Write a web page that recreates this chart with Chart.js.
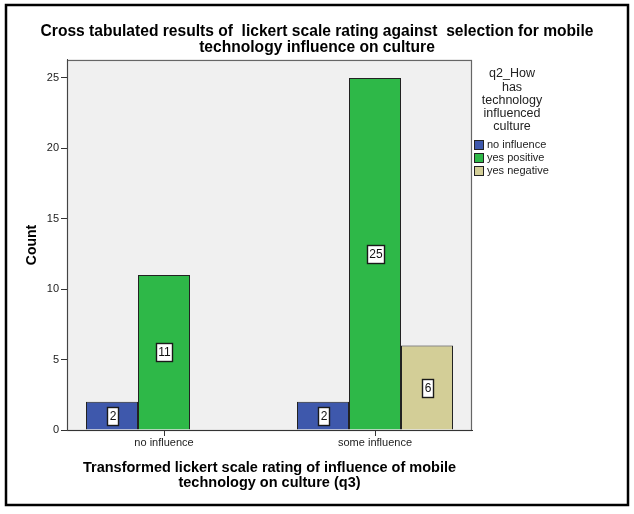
<!DOCTYPE html>
<html>
<head>
<meta charset="utf-8">
<script src="https://cdn.jsdelivr.net/npm/chart.js@4.4.1/dist/chart.umd.min.js"></script>
<style>
  html, body { margin: 0; padding: 0; background: #fff; }
</style>
</head>
<body>
<canvas id="chart" width="634" height="514"></canvas>
<script>
// categories (x) and counts per selection
const categories = ["no influence", "some influence"];
const noInfluence = [2, 2];
const yesPositive = [11, 25];
const yesNegative = [null, 6];
const yTicks = [0, 5, 10, 15, 20, 25];

const seriesNames = ["no influence", "yes positive", "yes negative"];
const seriesColors = ["#3e58ac", "#2eb848", "#d3ce97"];
const legendTitle = ["q2_How", "has", "technology", "influenced", "culture"];

const FONT = "'Liberation Sans', Arial, sans-serif";

// linear x so the two groups sit where SPSS put them
const toPoints = (arr) => arr.map((v, i) => ({ x: i, y: v }));

// background of the plot + outer frame
const framePlugin = {
  id: "frame",
  beforeDraw(chart) {
    const { ctx, chartArea: a } = chart;
    ctx.save();
    ctx.fillStyle = "#fff";
    ctx.fillRect(0, 0, chart.width, chart.height);
    ctx.fillStyle = "#f0f0f0";
    ctx.fillRect(a.left, a.top, a.right - a.left, a.bottom - a.top);
    ctx.strokeStyle = "#666";
    ctx.lineWidth = 1.2;
    ctx.strokeRect(a.left + 0.5, a.top + 0.5, a.right - a.left - 1, a.bottom - a.top);
    ctx.restore();
  },
  afterDraw(chart) {
    const ctx = chart.ctx;
    ctx.save();
    ctx.strokeStyle = "#000";
    ctx.lineWidth = 2.5;
    ctx.strokeRect(6, 5, 622, 500);
    ctx.restore();
  },
};

// white boxed count labels in the middle of each bar
const valueLabels = {
  id: "valueLabels",
  afterDatasetsDraw(chart) {
    const ctx = chart.ctx;
    ctx.save();
    ctx.font = "12px " + FONT;
    ctx.textAlign = "center";
    ctx.textBaseline = "middle";
    chart.data.datasets.forEach((ds, di) => {
      const meta = chart.getDatasetMeta(di);
      meta.data.forEach((bar, i) => {
        const v = ds.data[i].y;
        if (v == null) return;
        const txt = String(v);
        const cx = bar.x;
        const cy = (bar.y + bar.base) / 2;
        const w = Math.round(ctx.measureText(txt).width + 4);
        const h = 18;
        const bx = Math.round(cx - w / 2) + 0.5;
        const by = Math.round(cy - h / 2) + 0.5;
        ctx.fillStyle = "#fff";
        ctx.fillRect(bx, by, w, h);
        ctx.strokeStyle = "#1a1a1a";
        ctx.lineWidth = 1.4;
        ctx.strokeRect(bx, by, w, h);
        ctx.fillStyle = "#111";
        ctx.fillText(txt, bx + w / 2, by + h / 2 + 0.5);
      });
    });
    ctx.restore();
  },
};

// SPSS style legend on the right
const sideLegend = {
  id: "sideLegend",
  afterDraw(chart) {
    const ctx = chart.ctx;
    ctx.save();
    ctx.fillStyle = "#222";
    ctx.textAlign = "center";
    ctx.textBaseline = "middle";
    ctx.font = "12.5px " + FONT;
    legendTitle.forEach((line, i) => {
      ctx.fillText(line, 512, 74 + i * 13.2);
    });
    ctx.textAlign = "left";
    ctx.font = "11px " + FONT;
    seriesNames.forEach((name, i) => {
      const y = 145 + i * 13;
      ctx.fillStyle = seriesColors[i];
      ctx.fillRect(474.5, y - 4.5, 9, 9);
      ctx.strokeStyle = "#222";
      ctx.lineWidth = 1;
      ctx.strokeRect(474.5, y - 4.5, 9, 9);
      ctx.fillStyle = "#222";
      ctx.fillText(name, 487, y);
    });
    ctx.restore();
  },
};

const barStyle = (i) => ({
  backgroundColor: seriesColors[i],
  borderColor: "#222",
  borderWidth: 1,
  categoryPercentage: 156 / 211,
  barPercentage: 1,
});

const chartEl = document.getElementById("chart").getContext("2d");
new Chart(chartEl, {
  type: "bar",
  data: {
    datasets: [
      { label: seriesNames[0], data: toPoints(noInfluence), ...barStyle(0) },
      { label: seriesNames[1], data: toPoints(yesPositive), ...barStyle(1) },
      { label: seriesNames[2], data: toPoints(yesNegative), ...barStyle(2) },
    ],
  },
  options: {
    responsive: false,
    animation: false,
    layout: { padding: 0 },
    plugins: {
      legend: { display: false },
      tooltip: { enabled: false },
      title: {
        display: true,
        text: [
          "Cross tabulated results of  lickert scale rating against  selection for mobile",
          "technology influence on culture",
        ],
        color: "#000",
        font: { family: FONT, size: 15.6, weight: "bold", lineHeight: 1.05 },
        padding: { top: 23.5, bottom: 3.7 },
      },
    },
    scales: {
      x: {
        type: "linear",
        offset: false,
        min: -97 / 211,
        max: 1 + 97 / 211,
        afterBuildTicks: (s) => {
          s.ticks = categories.map((c, i) => ({ value: i }));
        },
        afterFit: (s) => {
          s.height = 84;
        },
        ticks: {
          callback: (v) => categories[v],
          color: "#222",
          font: { family: FONT, size: 11 },
          padding: 0,
          maxRotation: 0,
        },
        grid: { offset: false, drawOnChartArea: false, drawTicks: true, tickLength: 6, color: "#333" },
        border: { display: true, color: "#333", width: 1 },
        title: {
          display: true,
          text: [
            "Transformed lickert scale rating of influence of mobile",
            "technology on culture (q3)",
          ],
          color: "#000",
          font: { family: FONT, size: 14.5, weight: "bold", lineHeight: 1.05 },
          padding: { top: 0, bottom: 23.5 },
        },
      },
      y: {
        min: 0,
        max: 370 / 14.08,
        afterBuildTicks: (s) => {
          s.ticks = yTicks.map((v) => ({ value: v }));
        },
        afterFit: (s) => {
          s.width = 67;
        },
        ticks: {
          color: "#222",
          font: { family: FONT, size: 11 },
          padding: 2,
        },
        grid: { drawOnChartArea: false, drawTicks: true, tickLength: 6, color: "#333" },
        border: { display: true, color: "#444", width: 1 },
        title: {
          display: true,
          text: "Count",
          color: "#000",
          font: { family: FONT, size: 14, weight: "bold" },
          padding: { top: 24, bottom: 0 },
        },
      },
      // empty right axis only to keep room for the legend
      yr: {
        type: "linear",
        position: "right",
        display: true,
        ticks: { display: false },
        grid: { display: false, drawTicks: false },
        border: { display: false },
        afterFit: (s) => {
          s.width = 162;
        },
      },
    },
  },
  plugins: [framePlugin, valueLabels, sideLegend],
});
</script>
</body>
</html>
